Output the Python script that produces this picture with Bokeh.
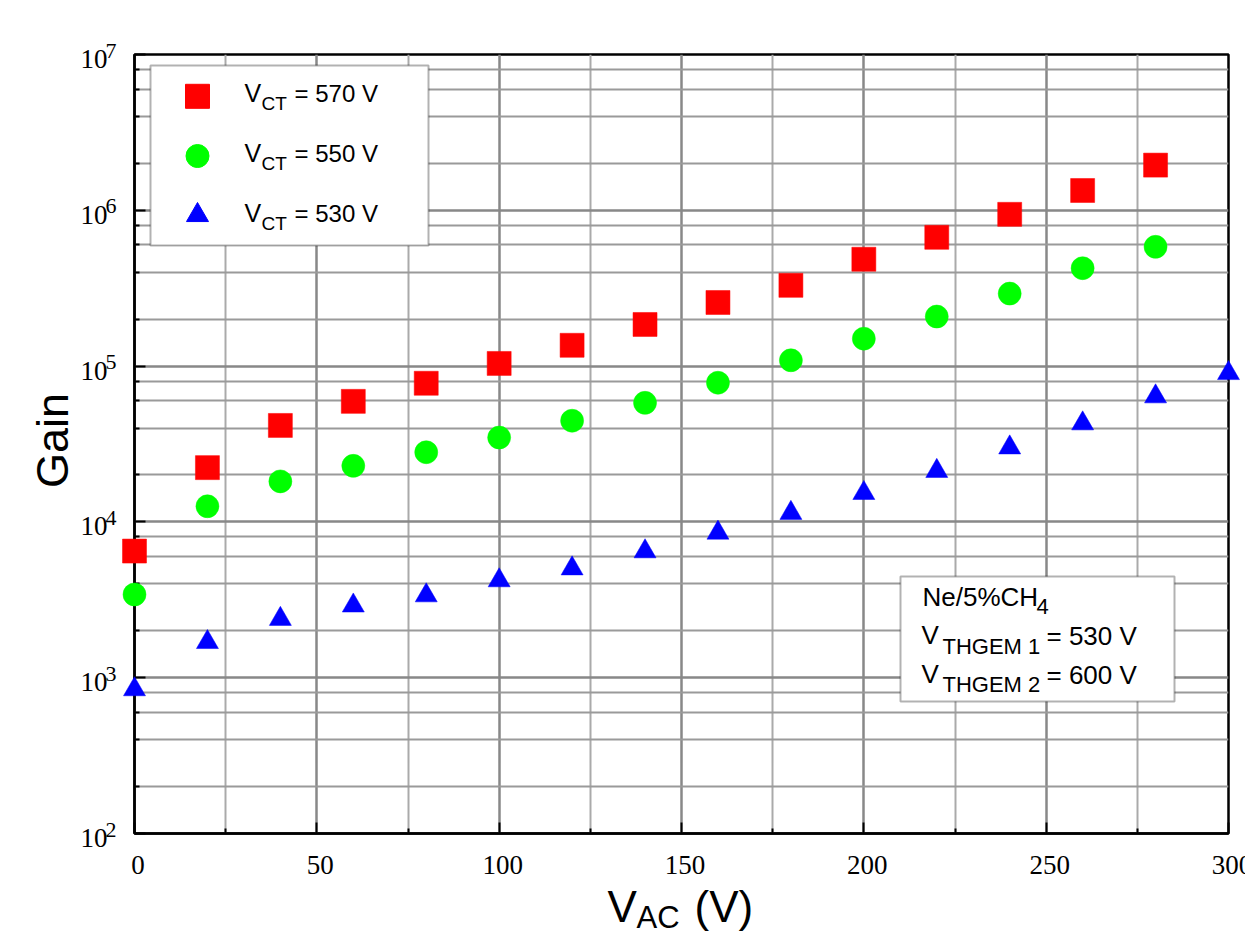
import math
from bokeh.plotting import figure
from bokeh.models import Range1d, FixedTicker, CustomJSTickFormatter, BoxAnnotation
from bokeh.core.properties import value
from bokeh.embed import file_html
from bokeh.resources import INLINE

# ---------------- data ----------------
vac_570 = [0, 20, 40, 60, 80, 100, 120, 140, 160, 180, 200, 220, 240, 260, 280]
gain_570 = [6500, 22300, 41600, 59400, 77600, 104000, 136000, 185000, 256000,
            330000, 485000, 671000, 942000, 1340000, 1950000]
vac_550 = [0, 20, 40, 60, 80, 100, 120, 140, 160, 180, 200, 220, 240, 260, 280]
gain_550 = [3420, 12600, 18200, 22900, 28000, 34800, 44600, 58100, 78200,
            109000, 150000, 208000, 292000, 425000, 583000]
vac_530 = [0, 20, 40, 60, 80, 100, 120, 140, 160, 180, 200, 220, 240, 260, 280, 300]
gain_530 = [841, 1690, 2380, 2900, 3370, 4210, 5020, 6460, 8510, 11400, 15300,
            21200, 30000, 42800, 63800, 90000]

x_ticks = [0, 50, 100, 150, 200, 250, 300]
x_tick_labels = ["0", "50", "100", "150", "200", "250", "300"]
x_minor = [25, 75, 125, 175, 225, 275]
y_ticks = [1e2, 1e3, 1e4, 1e5, 1e6, 1e7]
y_tick_base = ["10"] * 6
y_tick_exp = ["2", "3", "4", "5", "6", "7"]
y_minor = [m * 10 ** k for k in range(2, 7) for m in (2, 4, 6, 8)]

legend_labels = ["= 570 V", "= 550 V", "= 530 V"]

# ---------------- geometry helpers (pixel -> data) ----------------
FX0, FX1, FY0, FY1 = 134, 1228, 54, 833
XMIN, XMAX, LYMAX, LYMIN = 0, 300, 7, 2


def dx(px):
    return XMIN + (px - FX0) / (FX1 - FX0) * (XMAX - XMIN)


def dy(py):
    return 10 ** (LYMAX - (py - FY0) / (FY1 - FY0) * (LYMAX - LYMIN))


p = figure(width=1245, height=935, x_range=Range1d(0, 300), y_range=Range1d(1e2, 1e7),
           y_axis_type="log", output_backend="svg", toolbar_location=None,
           min_border_left=FX0, min_border_right=1245 - FX1, min_border_top=FY0,
           min_border_bottom=935 - FY1)
p.background_fill_color = "white"
p.border_fill_color = "white"
p.outline_line_color = "black"
p.outline_line_width = 2.5

# axes
p.xaxis.ticker = FixedTicker(ticks=x_ticks, minor_ticks=x_minor)
p.yaxis.ticker = FixedTicker(ticks=y_ticks, minor_ticks=y_minor)
p.xaxis.formatter = CustomJSTickFormatter(code="return ''")
p.yaxis.formatter = CustomJSTickFormatter(code="return ''")
for ax in (p.xaxis, p.yaxis):
    ax.axis_line_color = "black"
    ax.axis_line_width = 2.5
    ax.major_tick_in = 11
    ax.major_tick_out = 0
    ax.minor_tick_in = 5
    ax.minor_tick_out = 0
    ax.major_tick_line_width = 2
    ax.minor_tick_line_width = 2
    ax.major_tick_line_color = "black"
    ax.minor_tick_line_color = "black"

# grids
p.xgrid.grid_line_color = "#888888"
p.xgrid.grid_line_width = 2.5
p.xgrid.minor_grid_line_color = "#aaaaaa"
p.xgrid.minor_grid_line_width = 2
p.ygrid.grid_line_color = "#888888"
p.ygrid.grid_line_width = 2.5
p.ygrid.minor_grid_line_color = "#9a9a9a"
p.ygrid.minor_grid_line_width = 1.8

# data
p.scatter(vac_570, gain_570, marker="square", size=24, fill_color="#ff0000",
          line_color="#ff0000", line_width=0.5, level="overlay")
p.scatter(vac_550, gain_550, marker="circle", size=23, fill_color="#00ff00",
          line_color="#00ff00", line_width=0.5, level="overlay")
p.scatter(vac_530, gain_530, marker="triangle", size=22, fill_color="#0000ff",
          line_color="#0000ff", line_width=0.5, level="overlay")

serif = value("Liberation Serif")
sans = value("Liberation Sans")

# x tick labels
p.text(x=x_ticks, y=[1e2] * len(x_ticks), text=x_tick_labels, x_offset=3.5, y_offset=31.5,
       text_align="center", text_baseline="middle", text_font=serif,
       text_font_size="27px", text_color="black", level="overlay")

# y tick labels 10^n
p.text(x=[0] * len(y_ticks), y=y_ticks, text=y_tick_base, x_offset=-27, y_offset=4.5,
       text_align="right", text_baseline="middle", text_font=serif,
       text_font_size="27px", text_color="black", level="overlay")
p.text(x=[0] * len(y_ticks), y=y_ticks, text=y_tick_exp, x_offset=-29, y_offset=-4,
       text_align="left", text_baseline="middle", text_font=serif,
       text_font_size="22px", text_color="black", level="overlay")

# axis titles
p.text(x=[dx(52)], y=[dy(440)], text=["Gain"], angle=math.pi / 2, text_align="center",
       text_baseline="middle", text_font=sans, text_font_size="45px", text_color="black",
       level="overlay")
p.text(x=[dx(607)], y=[dy(905.5)], text=["V"], text_align="left", text_baseline="middle",
       text_font=sans, text_font_size="44px", text_color="black", level="overlay")
p.text(x=[dx(636)], y=[dy(917)], text=["AC"], text_align="left", text_baseline="middle",
       text_font=sans, text_font_size="31px", text_color="black", level="overlay")
p.text(x=[dx(694)], y=[dy(905.5)], text=["(V)"], text_align="left", text_baseline="middle",
       text_font=sans, text_font_size="44px", text_color="black", level="overlay")

# legend box
p.add_layout(BoxAnnotation(left=dx(150), right=dx(428), top=dy(65), bottom=dy(245),
                           fill_color="white", fill_alpha=1, line_color="black",
                           line_width=2, level="annotation"))
p.scatter([dx(197)], [dy(95.8)], marker="square", size=24, fill_color="#ff0000",
          line_color="#ff0000", level="overlay")
p.scatter([dx(197)], [dy(155.5)], marker="circle", size=23, fill_color="#00ff00",
          line_color="#00ff00", level="overlay")
p.scatter([dx(197)], [dy(214.7)], marker="triangle", size=22, fill_color="#0000ff",
          line_color="#0000ff", level="overlay")
leg_mid = [92.5, 152.5, 212.5]
p.text(x=[dx(244)] * 3, y=[dy(b) for b in leg_mid], text=["V"] * 3, text_align="left",
       text_baseline="middle", text_font=sans, text_font_size="25px",
       text_color="black", level="overlay")
p.text(x=[dx(261)] * 3, y=[dy(b + 10) for b in leg_mid], text=["CT"] * 3,
       text_align="left", text_baseline="middle", text_font=sans,
       text_font_size="19px", text_color="black", level="overlay")
p.text(x=[dx(294)] * 3, y=[dy(b) for b in leg_mid], text=legend_labels, text_align="left",
       text_baseline="middle", text_font=sans, text_font_size="24px",
       text_color="black", level="overlay")

# info box
p.add_layout(BoxAnnotation(left=dx(900), right=dx(1174), top=dy(576), bottom=dy(701),
                           fill_color="white", fill_alpha=1, line_color="black",
                           line_width=2, level="annotation"))
info_main = ["Ne/5%CH", "V", "= 530 V", "V", "= 600 V"]
info_main_x = [922, 921, 1046, 921, 1046]
info_main_m = [596.3, 634, 635, 673, 674]
p.text(x=[dx(v) for v in info_main_x], y=[dy(v) for v in info_main_m], text=info_main,
       text_align="left", text_baseline="middle", text_font=sans,
       text_font_size="26px", text_color="black", level="overlay")
info_sub = ["4", "THGEM 1", "THGEM 2"]
info_sub_x = [1036, 942, 942]
info_sub_m = [606, 645.5, 684]
p.text(x=[dx(v) for v in info_sub_x], y=[dy(v) for v in info_sub_m], text=info_sub,
       text_align="left", text_baseline="middle", text_font=sans,
       text_font_size="22px", text_color="black", level="overlay")

open("out.html", "w").write(file_html(p, INLINE))
